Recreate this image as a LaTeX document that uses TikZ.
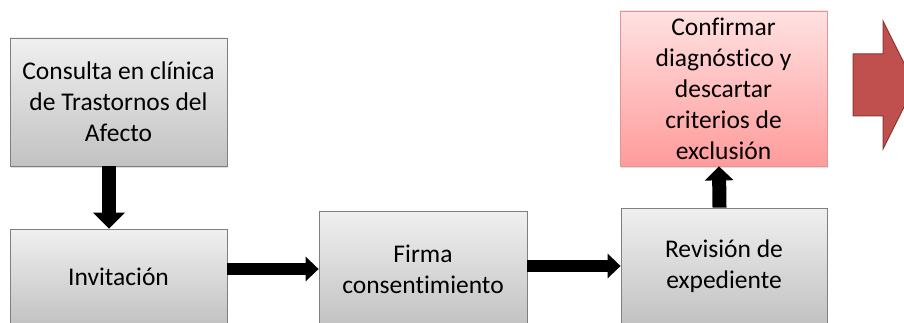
\documentclass[tikz,border=0pt]{standalone}
\usepackage{fontspec}
\setmainfont{Carlito}[Ligatures=NoCommon]
\usetikzlibrary{arrows.meta,shadows}
\definecolor{bordegris}{HTML}{7F7F7F}
\definecolor{bordeclaro}{HTML}{E39494}
\definecolor{rojoflecha}{HTML}{C0504D}
\definecolor{rojoborde}{HTML}{8C3836}

\begin{document}
\begin{tikzpicture}[x=1pt, y=-1pt,
  caja/.style={draw=bordegris, line width=0.8pt, top color=black!6, bottom color=black!24,
    align=center, inner sep=0pt, font=\fontsize{25.5}{31}\selectfont,
    drop shadow={shadow xshift=1pt, shadow yshift=-2pt, opacity=0.25}},
  cajaroja/.style={caja, draw=bordeclaro, top color={rgb,255:red,255;green,225;blue,225}, bottom color={rgb,255:red,255;green,155;blue,155}},
  flecha/.style={line width=14pt, -{Triangle[length=16pt,width=31pt]}}
]
\clip (0,0) rectangle (904,323);
\fill[white] (0,0) rectangle (904,323);

%cajas
\node[caja, minimum width=217pt, minimum height=128pt] (consulta) at (118.5,102) {Consulta en clínica\\de Trastornos del\\Afecto};
\node[caja, minimum width=217pt, minimum height=96pt] (invitacion) at (118.5,277) {Invitación};
\node[caja, minimum width=208pt, minimum height=116pt] (firma) at (423,269) {Firma\\consentimiento};
\node[caja, minimum width=206pt, minimum height=116pt] (revision) at (724,266) {Revisión de\\expediente};
\node[cajaroja, minimum width=207pt, minimum height=155pt] (confirmar) at (723.5,88.5) {Confirmar\\diagnóstico y\\descartar\\criterios de\\exclusión};

%flechas
\draw[flecha] ([xshift=-9.5pt]consulta.south) -- ([xshift=-9.5pt]invitacion.north);
\draw[flecha, line width=12pt, -{Triangle[length=13pt,width=24pt]}] (invitacion.east |- firma.west) -- (firma.west);
\draw[flecha, line width=12pt, -{Triangle[length=13pt,width=24pt]}] (firma.east |- revision.west) -- (revision.west);
\draw[flecha, -{Triangle[length=14pt,width=28pt]}] ([xshift=-4.5pt]revision.north) -- ([xshift=-4.5pt]confirmar.south);

%flecha roja
\draw[fill=rojoflecha, draw=rojoborde, line width=1pt] (853,54) -- (883,54) -- (883,21) -- (915,85) -- (883,149) -- (883,116) -- (853,116) -- cycle;

\end{tikzpicture}
\end{document}
